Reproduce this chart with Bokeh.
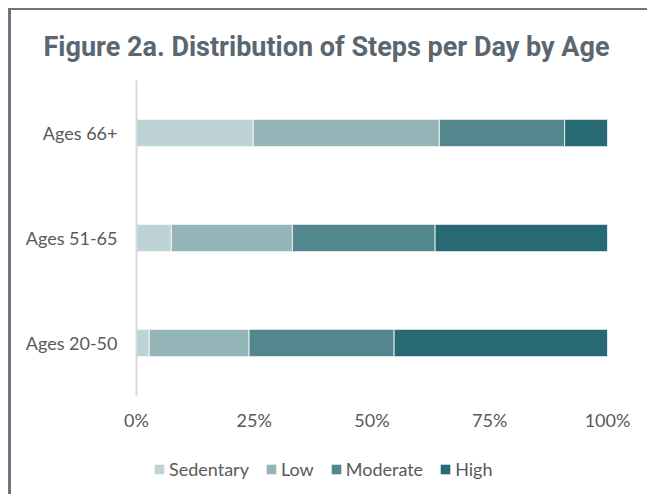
from bokeh.plotting import figure
from bokeh.layouts import column
from bokeh.models import (ColumnDataSource, FactorRange, Range1d, NumeralTickFormatter,
                          Legend, LegendItem, FixedTicker)
from bokeh.embed import file_html
from bokeh.resources import INLINE

ages = ["Ages 20-50", "Ages 51-65", "Ages 66+"]
levels = ["Sedentary", "Low", "Moderate", "High"]
sedentary = [0.027, 0.074, 0.248]
low = [0.212, 0.257, 0.395]
moderate = [0.308, 0.303, 0.266]
high = [0.453, 0.366, 0.091]
colors = ["#BDD3D5", "#93B5B8", "#52878D", "#286A73"]
x_ticks = [0, 0.25, 0.5, 0.75, 1.0]

source = ColumnDataSource(dict(age=ages, Sedentary=sedentary, Low=low, Moderate=moderate, High=high))

p = figure(frame_width=471, frame_height=315, y_range=FactorRange(*ages), x_range=(0, 1),
           output_backend="svg", toolbar_location=None,
           min_border_left=125, min_border_right=40, min_border_top=70, min_border_bottom=34)

p.hbar_stack(levels, y="age", height=0.26, color=colors, source=source,
             line_color="#ffffff", line_width=0.8)

p.title.text = "Figure 2a. Distribution of Steps per Day by Age"
p.title.align = "left"
p.title.offset = -93
p.title.standoff = 35
p.title.text_font = "Roboto"
p.title.text_font_style = "bold"
p.title.text_font_size = "27px"
p.title.text_color = "#5b6770"

p.outline_line_color = None
p.xgrid.grid_line_color = None
p.ygrid.grid_line_color = None

p.xaxis.ticker = FixedTicker(ticks=x_ticks)
p.xaxis.formatter = NumeralTickFormatter(format="0%")
p.xaxis.axis_line_color = None
p.xaxis.major_tick_line_color = None
p.xaxis.minor_tick_line_color = None
p.xaxis.major_label_standoff = 7
p.xaxis.major_label_text_font = "Lato"
p.xaxis.major_label_text_font_size = "18px"
p.xaxis.major_label_text_color = "#595959"

p.yaxis.axis_line_color = "#d9d9d9"
p.yaxis.axis_line_width = 2
p.yaxis.major_tick_line_color = None
p.yaxis.minor_tick_line_color = None
p.yaxis.major_label_standoff = 13
p.yaxis.major_label_text_font = "Lato"
p.yaxis.major_label_text_font_size = "18px"
p.yaxis.major_label_text_color = "#595959"

# legend strip below the chart (its bars have zero height and lie outside its x range)
p2 = figure(width=636, height=65, y_range=FactorRange(*ages), x_range=Range1d(2, 3),
            x_axis_type=None, y_axis_type=None, output_backend="svg", toolbar_location=None,
            min_border=0)
p2.outline_line_color = None
p2.xgrid.grid_line_color = None
p2.ygrid.grid_line_color = None
leg_renderers = p2.hbar_stack(levels, y="age", height=0, fill_color=colors, source=source,
                              line_color=None)

items = [LegendItem(label=lv, renderers=[r]) for lv, r in zip(levels, leg_renderers)]
legend = Legend(items=items, orientation="horizontal", location=(17, 18),
                glyph_width=12, glyph_height=12, label_standoff=4, spacing=16,
                label_text_font="Lato", label_text_font_size="18px", label_text_color="#595959",
                border_line_color=None, background_fill_alpha=0, padding=2, margin=0)
p2.add_layout(legend, "center")

layout = column(p, p2, spacing=0,
                styles={"border-left": "3px solid #6b7780", "border-top": "2px solid #6b7780",
                        "margin-left": "8px", "margin-top": "8px"})

open("out.html", "w").write(file_html(layout, INLINE))
